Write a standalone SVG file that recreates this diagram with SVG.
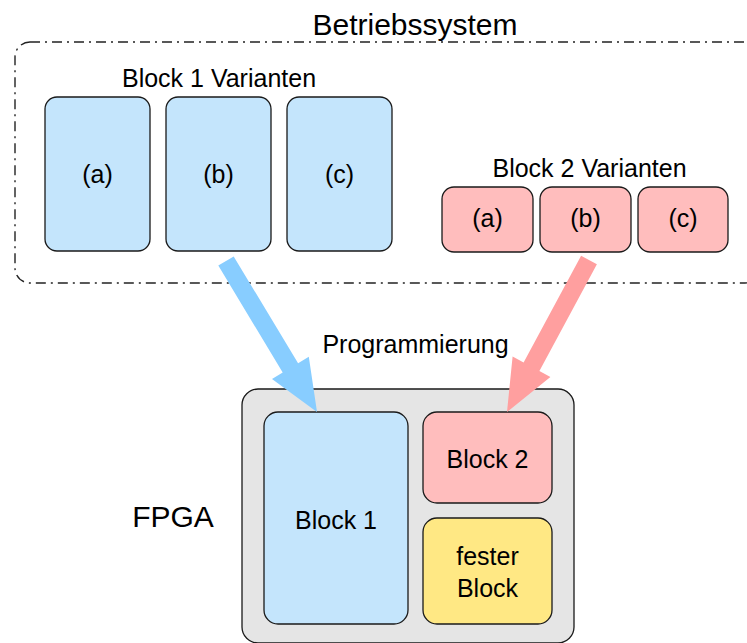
<svg xmlns="http://www.w3.org/2000/svg" width="747" height="643" viewBox="0 0 747 643">
  <style>
    text { font-family: "Liberation Sans", Arial, sans-serif; fill: #000; text-anchor: middle; }
    .box { stroke: #1a1a1a; stroke-width: 1.3; }
    .blue { fill: #c4e5fc; }
    .red { fill: #ffbdbd; }
    .yellow { fill: #ffe884; }
    .gray { fill: #e5e5e5; }
    .t24 { font-size: 25px; }
    .t29 { font-size: 30px; }
    .os { fill: none; stroke: #222; stroke-width: 1.4; stroke-dasharray: 10 5 2 5; }
  </style>

  <!-- operating system region -->
  <g id="betriebssystem">
    <rect class="os" x="15" y="42" width="745" height="241" rx="15"/>
    <text class="t29" x="415" y="35">Betriebssystem</text>
  </g>

  <!-- block 1 variants -->
  <g id="block1-varianten">
    <text class="t24" x="219" y="87">Block 1 Varianten</text>
  </g>
  <g id="b1a">
    <rect class="box blue" x="45" y="97" width="105" height="154" rx="12"/>
    <text class="t24" x="97.5" y="183">(a)</text>
  </g>
  <g id="b1b">
    <rect class="box blue" x="166" y="97" width="105" height="154" rx="12"/>
    <text class="t24" x="218.5" y="183">(b)</text>
  </g>
  <g id="b1c">
    <rect class="box blue" x="287" y="97" width="105" height="154" rx="12"/>
    <text class="t24" x="339.5" y="183">(c)</text>
  </g>

  <!-- block 2 variants -->
  <g id="block2-varianten">
    <text class="t24" x="589.5" y="177">Block 2 Varianten</text>
  </g>
  <g id="b2a">
    <rect class="box red" x="442" y="187" width="91" height="65" rx="12"/>
    <text class="t24" x="487.5" y="227">(a)</text>
  </g>
  <g id="b2b">
    <rect class="box red" x="540" y="187" width="91" height="65" rx="12"/>
    <text class="t24" x="585.5" y="227">(b)</text>
  </g>
  <g id="b2c">
    <rect class="box red" x="638" y="187" width="90" height="65" rx="12"/>
    <text class="t24" x="683" y="227">(c)</text>
  </g>

  <!-- FPGA -->
  <g id="fpga">
    <rect class="box gray" x="242" y="389" width="332" height="254" rx="16"/>
    <text class="t29" x="173" y="527">FPGA</text>
  </g>
  <g id="block1">
    <rect class="box blue" x="264" y="412" width="144" height="212" rx="14"/>
    <text class="t24" x="336" y="529">Block 1</text>
  </g>
  <g id="block2">
    <rect class="box red" x="423" y="412" width="129" height="91" rx="14"/>
    <text class="t24" x="487.5" y="468">Block 2</text>
  </g>
  <g id="fester-block">
    <rect class="box yellow" x="423" y="518" width="129" height="106" rx="14"/>
    <text class="t24" x="487.5" y="565">fester</text>
    <text class="t24" x="487.5" y="597">Block</text>
  </g>

  <!-- programming arrows -->
  <g id="connectors">
    <polygon fill="#88cdff" points="218.3,265.6 282.7,372.5 272,379 317,412 308.8,356.8 298.1,363.3 233.7,256.4"/>
    <polygon fill="#ff9f9f" points="581.1,255.7 523.6,362.4 512.6,356.5 507,412 550.4,376.9 539.4,371 596.9,264.3"/>
    <text class="t24" x="415.5" y="353">Programmierung</text>
  </g>
</svg>
